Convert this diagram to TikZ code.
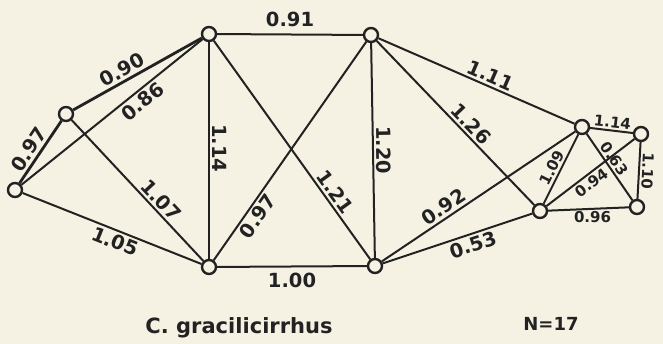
\documentclass[tikz,border=0pt]{standalone}
\usepackage{fontspec}
\setmainfont{DejaVu Sans}
\definecolor{bg}{RGB}{245,242,228}
\definecolor{ink}{RGB}{34,34,34}
\tikzset{
  vtx/.style={circle,draw=ink,fill=bg,line width=2.4pt,minimum size=14pt,inner sep=0pt},
  edge/.style={draw=ink,line width=2pt},
  heavy/.style={line width=2.8pt},
  lab/.style={text=ink,font=\fontsize{19.5}{19.5}\selectfont\bfseries,inner sep=2.5pt},
  labs/.style={text=ink,font=\fontsize{15}{15}\selectfont\bfseries,inner sep=2pt},
  ttl/.style={text=ink,font=\fontsize{21}{21}\selectfont\bfseries,inner sep=0pt,anchor=base}
}
\begin{document}
\begin{tikzpicture}[x=1pt,y=1pt]
\useasboundingbox (0,0) rectangle (663,344);
\fill[bg] (0,0) rectangle (663,344);
% vertices
\node[vtx] (A) at (15,154) {};
\node[vtx] (B) at (66,230) {};
\node[vtx] (C) at (209,310) {};
\node[vtx] (D) at (371,309) {};
\node[vtx] (E) at (209,77) {};
\node[vtx] (F) at (375,78) {};
\node[vtx] (G) at (540,133) {};
\node[vtx] (H) at (582,217) {};
\node[vtx] (I) at (641,210) {};
\node[vtx] (J) at (637,137) {};
% edges
\draw[edge,heavy] (A) -- node[lab,sloped,above,pos=.44]{0.97} (B);
\draw[edge,heavy] (B) -- node[lab,sloped,above,pos=.42]{0.90} (C);
\draw[edge] (A) -- node[lab,sloped,below,pos=.63]{0.86} (C);
\draw[edge] (B) -- node[lab,sloped,above,pos=.62]{1.07} (E);
\draw[edge] (A) -- node[lab,sloped,below,pos=.54]{1.05} (E);
\draw[edge] (C) -- node[lab,sloped,above,pos=.49]{1.14} (E);
\draw[edge] (C) -- node[lab,above=4pt]{0.91} (D);
\draw[edge] (C) -- node[lab,sloped,above,pos=.72]{1.21} (F);
\draw[edge] (E) -- node[lab,sloped,below,pos=.23]{0.97} (D);
\draw[edge] (D) -- node[lab,sloped,above,pos=.5]{1.20} (F);
\draw[edge] (E) -- node[lab,below=3pt]{1.00} (F);
\draw[edge] (D) -- node[lab,sloped,above,pos=.55]{1.11} (H);
\draw[edge] (D) -- node[lab,sloped,above,pos=.55]{1.26} (G);
\draw[edge] (F) -- node[lab,sloped,above,pos=.35]{0.92} (H);
\draw[edge] (F) -- node[lab,sloped,below,pos=.58]{0.53} (G);
\draw[edge] (G) -- node[labs,sloped,above,pos=.46]{1.09} (H);
\draw[edge] (H) -- node[labs,sloped,above,pos=.5]{1.14} (I);
\draw[edge] (H) -- node[labs,sloped,above,pos=.45]{0.63} (J);
\draw[edge] (G) -- node[labs,sloped,below,pos=.45]{0.94} (I);
\draw[edge] (I) -- node[labs,sloped,allow upside down,above,pos=.5]{1.10} (J);
\draw[edge] (G) -- node[labs,below,pos=.55]{0.96} (J);
% titles
\node[ttl] (title) at (239,10) {C. gracilicirrhus};
\node[ttl,font=\fontsize{18}{18}\selectfont\bfseries] (nn) at (551,13) {N=17};
\end{tikzpicture}
\end{document}
